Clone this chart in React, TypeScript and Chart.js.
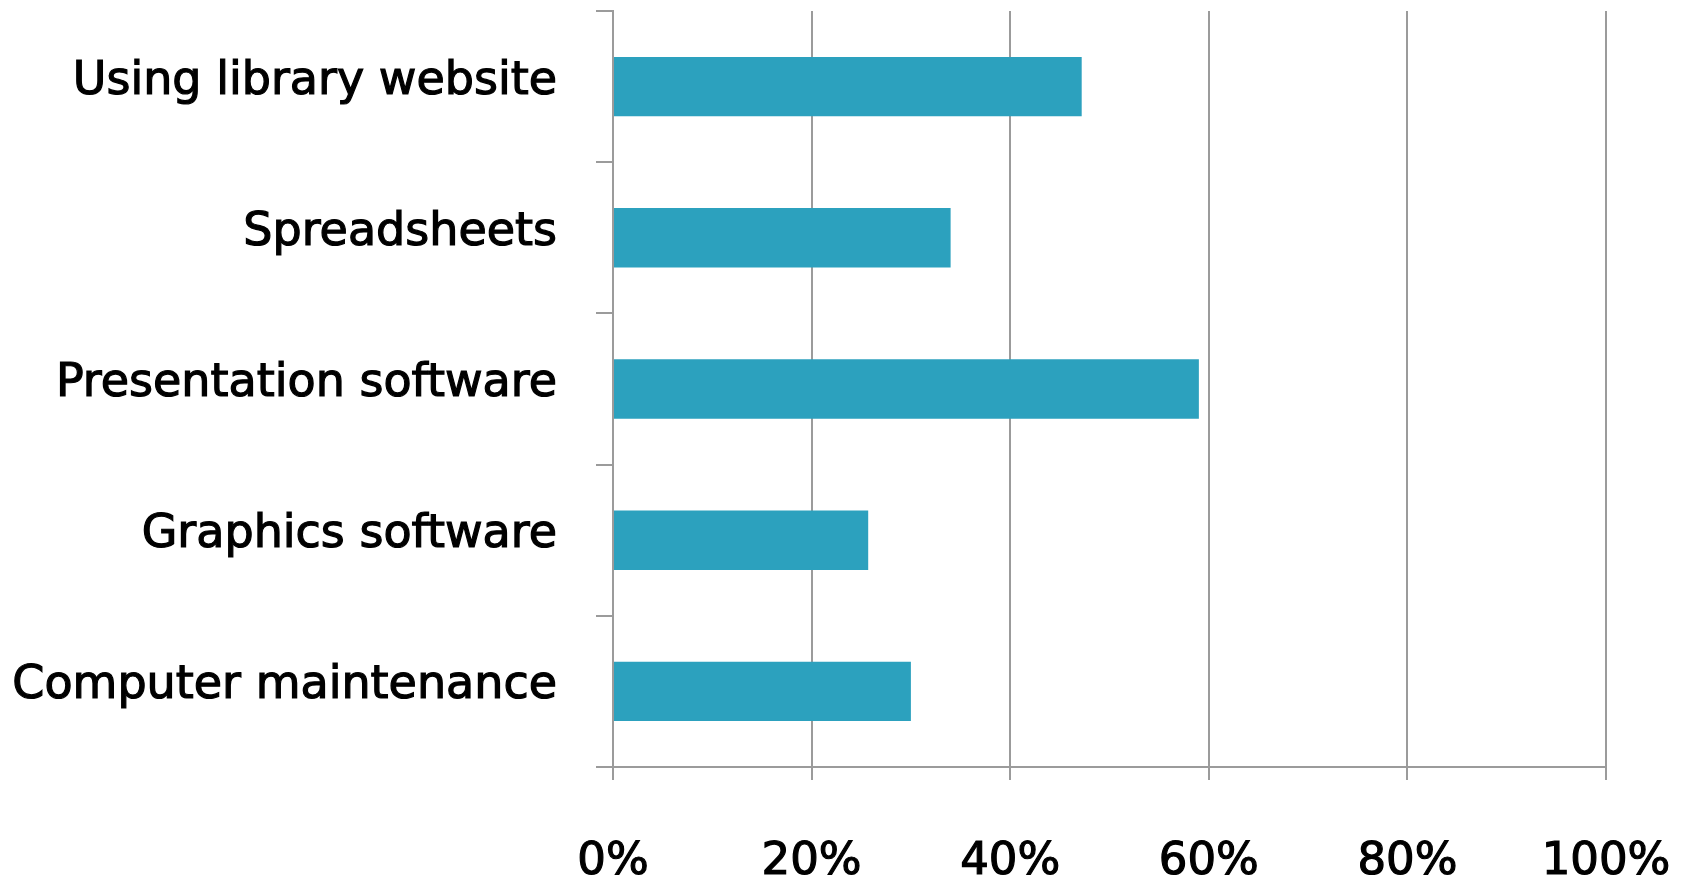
import React, { useEffect, useRef } from "react";
import { Chart, registerables } from "chart.js";

Chart.register(...registerables);

const categories = [
  "Using library website",
  "Spreadsheets",
  "Presentation software",
  "Graphics software",
  "Computer maintenance",
];
const values = [47.2, 34, 59, 25.7, 30];
const xTicks = [0, 20, 40, 60, 80, 100];

export default function App() {
  const ref = useRef<HTMLCanvasElement | null>(null);
  useEffect(() => {
    if (!ref.current) return;
    const gridColor = "#9b9b9b";
    const chart = new Chart(ref.current, {
      type: "bar",
      data: {
        labels: categories,
        datasets: [
          {
            data: values,
            backgroundColor: "#2ca1be",
            borderWidth: 0,
            barPercentage: 0.393,
            categoryPercentage: 1,
          },
        ],
      },
      options: {
        indexAxis: "y",
        animation: false,
        responsive: false,
        maintainAspectRatio: false,
        layout: { padding: { top: 11, right: 83, left: 0, bottom: 0 } },
        plugins: { legend: { display: false }, tooltip: { enabled: false } },
        scales: {
          x: {
            min: 0,
            max: 100,
            afterBuildTicks: (axis: any) => {
              axis.ticks = xTicks.map((v) => ({ value: v }));
            },
            afterFit: (axis: any) => {
              axis.height = 114;
              axis.paddingLeft = 0;
              axis.paddingRight = 0;
              axis.paddingTop = 0;
              axis.paddingBottom = 0;
            },
            ticks: {
              color: "#000",
              font: { family: "DejaVu Sans", size: 45 },
              padding: 55,
              textStrokeColor: "#000",
              textStrokeWidth: 1.2,
              callback: (v: any) => v + "%",
            },
            grid: {
              color: gridColor,
              lineWidth: 2,
              tickLength: 13,
              drawTicks: true,
            },
            border: { display: true, color: gridColor, width: 2 },
          },
          y: {
            afterFit: (axis: any) => {
              axis.width = 613;
              axis.paddingLeft = 0;
              axis.paddingRight = 0;
              axis.paddingTop = 0;
              axis.paddingBottom = 0;
            },
            ticks: {
              color: "#000",
              font: { family: "DejaVu Sans", size: 46 },
              padding: 39,
              labelOffset: -5,
              textStrokeColor: "#000",
              textStrokeWidth: 1.2,
            },
            grid: {
              offset: true,
              drawOnChartArea: false,
              drawTicks: true,
              tickLength: 17,
              color: gridColor,
              lineWidth: 2,
            },
            border: { display: true, color: gridColor, width: 2 },
          },
        },
      },
    });
    return () => chart.destroy();
  }, []);
  return (
    <div style={{ position: "absolute", left: 0, top: 0, width: 1689, height: 881, background: "#fff" }}>
      <canvas ref={ref} width={1689} height={881} style={{ width: 1689, height: 881 }} />
    </div>
  );
}
